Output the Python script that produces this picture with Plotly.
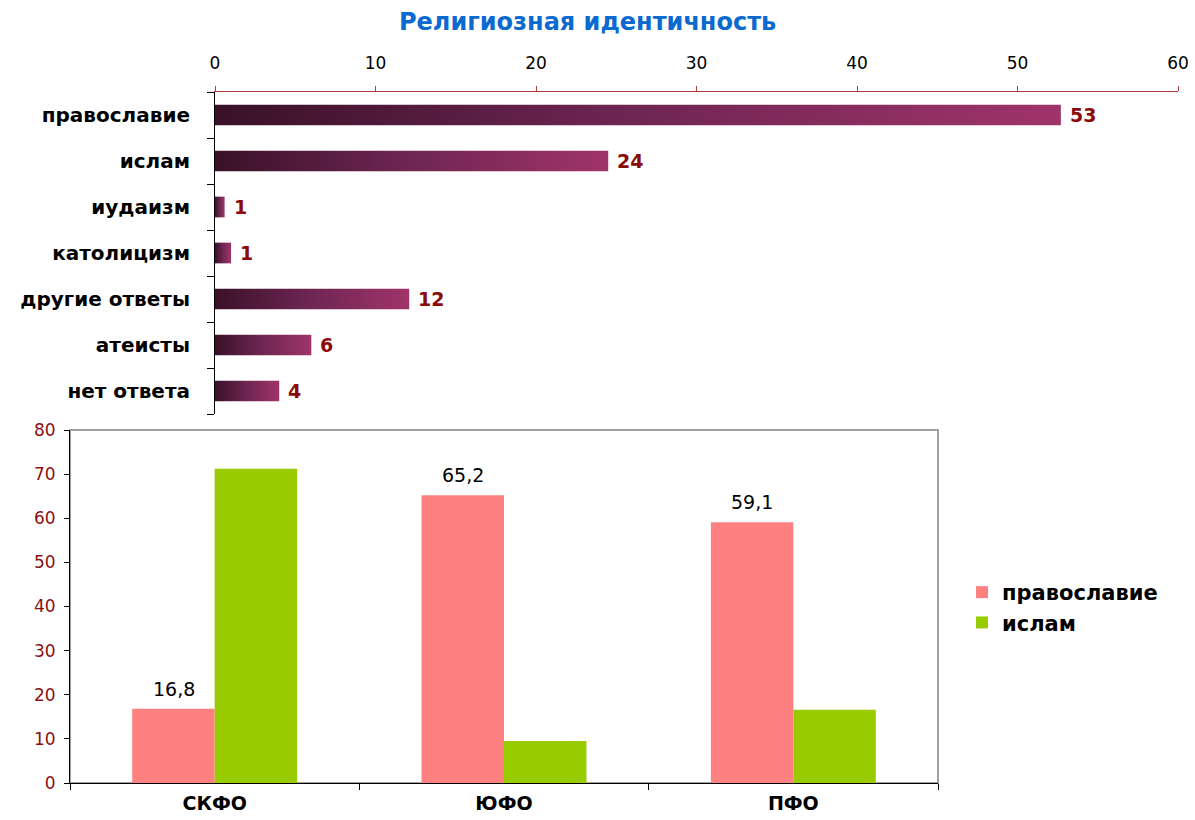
import plotly.graph_objects as go

W, H = 1195, 820

# ---- top chart data ----
religions = ["православие", "ислам", "иудаизм", "католицизм", "другие ответы", "атеисты", "нет ответа"]
religion_values = [52.7, 24.5, 0.6, 1.0, 12.1, 6.0, 4.0]
religion_labels = ["53", "24", "1", "1", "12", "6", "4"]

# ---- bottom chart data ----
districts = ["СКФО", "ЮФО", "ПФО"]
orthodox = [16.8, 65.2, 59.1]
islam = [71.2, 9.5, 16.6]
orthodox_labels = ["16,8", "65,2", "59,1"]

FONT = "DejaVu Sans"
BAR_HALF = 0.225
GRAD = [[0, "#3a1128"], [0.45, "#6a2450"], [1, "#a0346a"]]

fig = go.Figure()

# gradient horizontal bars (one filled polygon per category, from data)
for i, (name, v) in enumerate(zip(religions, religion_values)):
    fig.add_trace(go.Scatter(
        x=[0, v, v, 0, 0],
        y=[i - BAR_HALF, i - BAR_HALF, i + BAR_HALF, i + BAR_HALF, i - BAR_HALF],
        mode="lines", line=dict(width=0), fill="toself",
        fillgradient=dict(type="horizontal", colorscale=GRAD),
        hoverinfo="text", text=f"{name}: {v}",
        showlegend=False, xaxis="x", yaxis="y",
    ))

for i, (v, lab) in enumerate(zip(religion_values, religion_labels)):
    fig.add_annotation(x=v, y=i, xref="x", yref="y", text=f"<b>{lab}</b>",
                       showarrow=False, xanchor="left", xshift=7,
                       font=dict(family=FONT, size=19, color="#8b0a0a"))

# grouped bars
fig.add_trace(go.Bar(
    x=districts, y=orthodox, name="православие", marker_color="#ff8080",
    marker_line_width=0, xaxis="x2", yaxis="y2",
))
fig.add_trace(go.Bar(
    x=districts, y=islam, name="ислам", marker_color="#99cc00",
    marker_line_width=0, xaxis="x2", yaxis="y2",
))
for d, v, lab in zip(districts, orthodox, orthodox_labels):
    fig.add_annotation(x=d, y=v, xref="x2", yref="y2", text=lab, showarrow=False,
                       xanchor="center", yanchor="bottom", xshift=-41, yshift=7,
                       font=dict(family=FONT, size=19, color="black"))

def px_x(p):
    return p / W

def px_y(p):
    return 1 - p / H

fig.update_layout(
    width=W, height=H,
    margin=dict(l=0, r=0, t=0, b=0, autoexpand=False),
    paper_bgcolor="white", plot_bgcolor="rgba(0,0,0,0)",
    font=dict(family=FONT, color="black"),
    barmode="group", bargap=0.43, bargroupgap=0,
    xaxis=dict(domain=[px_x(215), px_x(1178)], range=[0, 60], side="top",
               tickvals=[0, 10, 20, 30, 40, 50, 60], ticks="outside", ticklen=5,
               tickcolor="#b03a3a", showline=True, linecolor="#b03a3a", linewidth=1,
               showgrid=False, zeroline=False, anchor="y", automargin=False,
               ticklabelstandoff=10,
               tickfont=dict(family=FONT, size=17, color="black")),
    yaxis=dict(domain=[px_y(414), px_y(92)], range=[6.5, -0.5],
               tickvals=list(range(len(religions))),
               ticktext=[f"<b>{r}</b>" for r in religions],
               ticks="", showline=True, linecolor="black", linewidth=1,
               showgrid=False, zeroline=False, anchor="x", automargin=False,
               ticklabelstandoff=20,
               tickfont=dict(family=FONT, size=20, color="black"),
               minor=dict(tickmode="array", tickvals=[k - 0.5 for k in range(len(religions) + 1)],
                          ticks="outside", ticklen=7, tickcolor="black", showgrid=False)),
    xaxis2=dict(domain=[px_x(70), px_x(938)], type="category", tickson="boundaries",
                ticks="outside", ticklen=6, tickcolor="black", showline=True,
                linecolor="black", linewidth=1, showgrid=False, anchor="y2",
                automargin=False, ticklabelstandoff=3,
                ticktext=[f"<b>{d}</b>" for d in districts], tickvals=districts,
                tickfont=dict(family=FONT, size=19, color="black")),
    yaxis2=dict(domain=[px_y(783), px_y(430)], range=[0, 80], dtick=10,
                ticks="outside", ticklen=5, tickcolor="black", showline=True,
                linecolor="black", linewidth=1, showgrid=False, zeroline=False,
                anchor="x2", automargin=False, ticklabelstandoff=5,
                tickfont=dict(family=FONT, size=17, color="#8b1010")),
    legend=dict(x=px_x(962), y=px_y(572), xanchor="left", yanchor="top",
                font=dict(family=FONT, size=21, color="black", weight="bold"),
                tracegroupgap=8, itemwidth=30, bgcolor="rgba(0,0,0,0)"),
    showlegend=True,
)

# grey frame on top/right of lower plot
fig.add_shape(type="rect", xref="x2 domain", yref="y2 domain", x0=0, x1=1, y0=0, y1=1,
              line=dict(color="#a0a0a0", width=2), layer="below")

fig.add_annotation(x=px_x(587), y=px_y(22), xref="paper", yref="paper",
                   xanchor="center", yanchor="middle",
                   text="<b>Религиозная идентичность</b>", showarrow=False,
                   font=dict(family=FONT, size=24, color="#0a6ad0"))

fig.write_html(
    "out.html",
    config={"displayModeBar": False},
    post_script="document.body.style.margin='0';document.body.style.overflow='hidden';",
)
